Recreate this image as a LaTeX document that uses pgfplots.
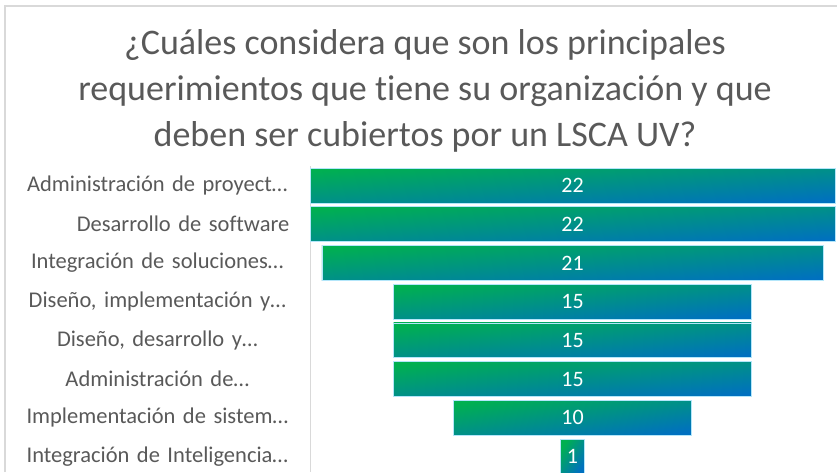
\documentclass[border=0pt]{standalone}
\usepackage{fontspec}
\setmainfont{Carlito}[Ligatures={NoCommon}]
\usepackage{pgfplots}
\usepackage{pgfplotstable}
\pgfplotsset{compat=1.18}
\definecolor{fgreen}{HTML}{00B050}
\definecolor{fblue}{HTML}{0070C0}
\definecolor{tgray}{HTML}{595959}
\definecolor{lgray}{HTML}{D9D9D9}
\pgfplotstableread{
x y v
11 0 22
11 1 22
11 2 21
11 3 15
11 4 15
11 5 15
11 6 10
11 7 1
}\funnel
\begin{document}
\begin{tikzpicture}[x=1pt,y=1pt]
\useasboundingbox (0,0) rectangle (837,472);
\draw[lgray, line width=1.2pt] (5,0) -- (5,466) -- (837,466);
\node[anchor=base, text=tgray, font=\fontsize{36}{42}\selectfont, inner sep=0pt] at (425,417) {¿Cuáles considera que son los principales};
\node[anchor=base, text=tgray, font=\fontsize{36}{42}\selectfont, inner sep=0pt] at (425,371) {requerimientos que tiene su organización y que};
\node[anchor=base, text=tgray, font=\fontsize{36}{42}\selectfont, inner sep=0pt] at (425,325) {deben ser cubiertos por un LSCA UV?};
\begin{axis}[at={(310pt,0pt)}, anchor=south west, scale only axis,
  width=525pt, height=306pt,
  xmin=0, xmax=22, ymin=-0.504, ymax=7.40, y dir=reverse,
  hide x axis, axis y line*=left,
  y axis line style={lgray, line width=1pt},
  ytick={0,...,7}, major tick length=0pt,
  yticklabels={Administración de proyect…, {\hfill Desarrollo de software}, Integración de soluciones…, {Diseño, implementación y…}, {Diseño, desarrollo y…}, Administración de…, Implementación de sistem…, Integración de Inteligencia…},
  yticklabel style={anchor=east, inner sep=0pt, text width=264pt, align=center, text=tgray, font=\fontsize{22.5}{26}\selectfont, xshift=-20.5pt},
  clip=false]
\addplot[only marks, mark=none, point meta=explicit symbolic, nodes near coords,
  nodes near coords style={anchor=center, inner sep=0pt, minimum height=34.8pt,
    minimum width={\pgfplotspointmeta*23.8636pt},
    top color=fgreen, bottom color=fblue,
    shading angle={atan(34.8/(\pgfplotspointmeta*23.8636))},
    draw=white!70!cyan, line width=0.7pt,
    text=white, font=\fontsize{22}{26}\selectfont}]
  table[x=x, y=y, meta=v] {\funnel};
\end{axis}
\end{tikzpicture}
\end{document}
